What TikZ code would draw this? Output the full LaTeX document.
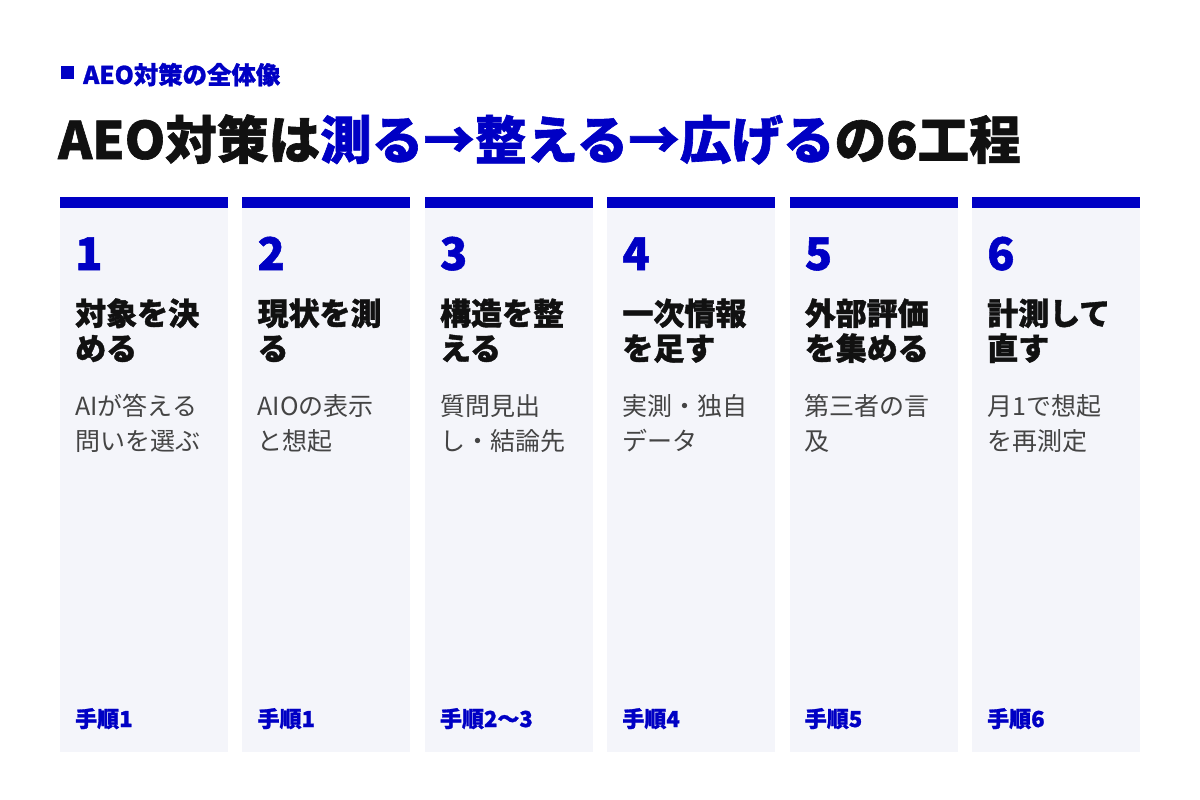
\documentclass[tikz,border=0pt]{standalone}
\usepackage{fontspec}
\setmainfont{Noto Sans CJK JP}[BoldFeatures={FakeBold=1.2}]
\usetikzlibrary{positioning}

\definecolor{aeoblue}{HTML}{0000C4}
\definecolor{cardbg}{HTML}{F4F5FA}
\definecolor{dsctxt}{HTML}{444444}
\definecolor{inktxt}{HTML}{111111}

\tikzset{
  kickertxt/.style={anchor=base west, inner sep=0, text=aeoblue,
    font=\bfseries\fontsize{24.4}{24.4}\selectfont},
  headtxt/.style={anchor=base west, inner sep=0, text=inktxt,
    font=\bfseries\fontsize{51.6}{51.6}\selectfont},
  numtxt/.style={anchor=base west, inner sep=0, text=aeoblue,
    font=\bfseries\fontsize{45}{45}\selectfont},
  ttltxt/.style={anchor=base west, inner sep=0, text=inktxt,
    font=\bfseries\fontsize{31}{31}\selectfont},
  dsctxt/.style={anchor=base west, inner sep=0, text=dsctxt,
    font=\fontsize{25}{25}\selectfont},
  sttxt/.style={anchor=base west, inner sep=0, text=aeoblue,
    font=\bfseries\fontsize{22}{22}\selectfont},
}

\begin{document}
\begin{tikzpicture}[x=1pt,y=-1pt]
\useasboundingbox[fill=white] (0,0) rectangle (1200,800);

% header
\fill[aeoblue] (61,66) rectangle (74,79);
\node[kickertxt] (kicker) at (83,84) {AEO対策の全体像};
\node[headtxt] (headline) at (58,159)
  {AEO対策は\textcolor{aeoblue}{測る→整える→広げる}の6工程};

% six cards
\foreach \n/\ta/\tb/\da/\db/\st [count=\k from 0] in {
  1/対象を決/める/AIが答える/問いを選ぶ/手順1,
  2/現状を測/る/AIOの表示/と想起/手順1,
  3/構造を整/える/質問見出/し・結論先/手順2〜3,
  4/一次情報/を足す/実測・独自/データ/手順4,
  5/外部評価/を集める/第三者の言/及/手順5,
  6/計測して/直す/月1で想起/を再測定/手順6}{
  \pgfmathsetmacro\xl{60+182.4*\k}
  \fill[cardbg] (\xl,208) rectangle ++(168,544);
  \fill[aeoblue] (\xl,197) rectangle ++(168,11);
  \node[numtxt] (num\n) at (\xl+15,270) {\n};
  \node[ttltxt] (ttla\n) at (\xl+15,325) {\ta};
  \node[ttltxt] (ttlb\n) at (\xl+15,360) {\tb};
  \node[dsctxt] (dsca\n) at (\xl+15,415) {\da};
  \node[dsctxt] (dscb\n) at (\xl+15,450) {\db};
  \node[sttxt] (st\n) at (\xl+15,727) {\st};
}
\end{tikzpicture}
\end{document}
